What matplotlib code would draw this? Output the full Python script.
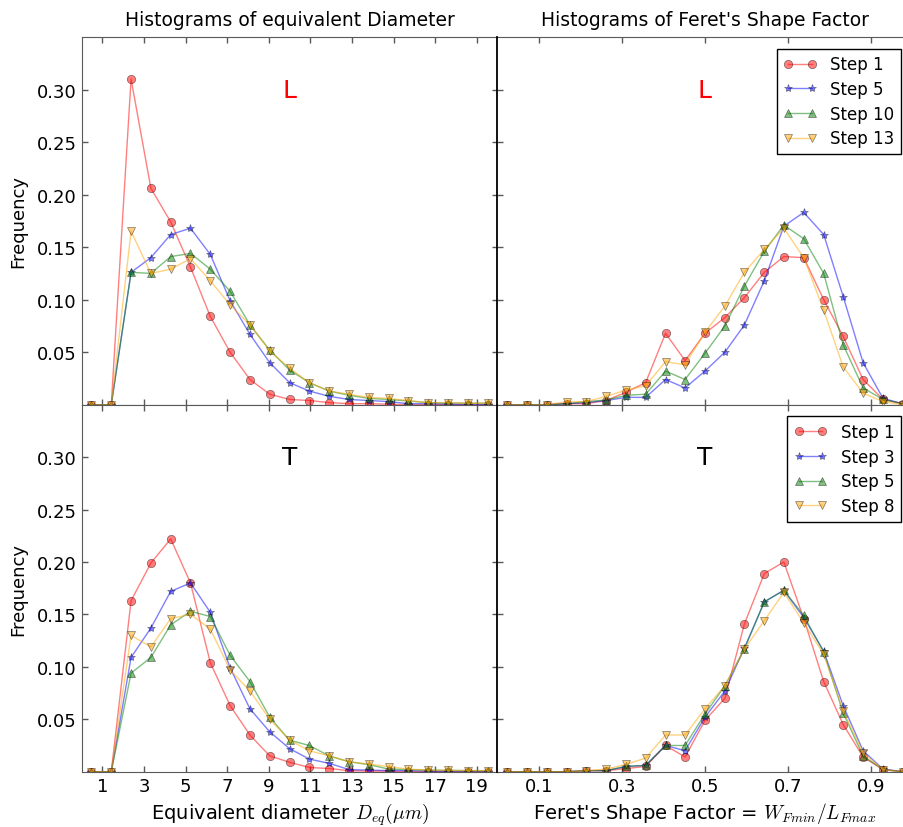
import numpy as np
import matplotlib
matplotlib.use('Agg')
import matplotlib.pyplot as plt

plt.rcParams['font.family'] = 'DejaVu Sans'
plt.rcParams['mathtext.fontset'] = 'cm'

# bin centres (21 bins)
diam_bins = [0.476, 1.429, 2.381, 3.333, 4.286, 5.238, 6.190, 7.143, 8.095, 9.048, 10.0,
             10.952, 11.905, 12.857, 13.810, 14.762, 15.714, 16.667, 17.619, 18.571, 19.524]
feret_bins = [0.024, 0.071, 0.119, 0.167, 0.214, 0.262, 0.310, 0.357, 0.405, 0.452, 0.500,
              0.548, 0.595, 0.643, 0.690, 0.738, 0.786, 0.833, 0.881, 0.929, 0.976]

# L sample
L_steps = ['Step 1', 'Step 5', 'Step 10', 'Step 13']
L_diam = [
    [0, 0, 0.310, 0.206, 0.174, 0.131, 0.084, 0.050, 0.024, 0.010, 0.005, 0.004, 0.002, 0.001, 0.001, 0.0005, 0, 0, 0, 0, 0],
    [0, 0, 0.126, 0.140, 0.162, 0.168, 0.143, 0.099, 0.067, 0.040, 0.021, 0.013, 0.008, 0.005, 0.004, 0.003, 0.001, 0.001, 0.0005, 0, 0],
    [0, 0, 0.126, 0.125, 0.141, 0.144, 0.129, 0.108, 0.076, 0.052, 0.033, 0.021, 0.013, 0.009, 0.006, 0.005, 0.0035, 0.002, 0.0015, 0.0015, 0.0015],
    [0, 0, 0.165, 0.125, 0.129, 0.139, 0.118, 0.095, 0.076, 0.051, 0.035, 0.021, 0.013, 0.010, 0.007, 0.006, 0.004, 0.002, 0.002, 0.0015, 0.0015],
]
L_feret = [
    [0, 0, 0, 0.001, 0.001, 0.004, 0.012, 0.021, 0.068, 0.042, 0.068, 0.083, 0.102, 0.126, 0.141, 0.140, 0.100, 0.065, 0.024, 0.005, 0.001],
    [0, 0, 0, 0.001, 0.002, 0.004, 0.007, 0.007, 0.024, 0.016, 0.032, 0.050, 0.076, 0.118, 0.170, 0.183, 0.162, 0.103, 0.040, 0.006, 0.001],
    [0, 0, 0, 0.001, 0.003, 0.0045, 0.009, 0.010, 0.032, 0.024, 0.049, 0.075, 0.113, 0.146, 0.171, 0.158, 0.125, 0.057, 0.016, 0.005, 0.001],
    [0, 0, 0, 0.003, 0.003, 0.008, 0.014, 0.018, 0.041, 0.038, 0.069, 0.094, 0.126, 0.148, 0.168, 0.140, 0.090, 0.036, 0.011, 0.003, 0],
]

# T sample
T_steps = ['Step 1', 'Step 3', 'Step 5', 'Step 8']
T_diam = [
    [0, 0, 0.163, 0.199, 0.222, 0.180, 0.104, 0.063, 0.035, 0.015, 0.009, 0.004, 0.003, 0.001, 0.0005, 0.0005, 0, 0, 0, 0, 0],
    [0, 0, 0.109, 0.137, 0.172, 0.180, 0.152, 0.099, 0.060, 0.038, 0.022, 0.012, 0.008, 0.002, 0.0015, 0.001, 0.001, 0.0005, 0, 0, 0],
    [0, 0, 0.094, 0.109, 0.140, 0.153, 0.148, 0.111, 0.086, 0.052, 0.030, 0.025, 0.015, 0.0095, 0.0067, 0.0025, 0.002, 0.0015, 0.0013, 0.001, 0.001],
    [0, 0, 0.130, 0.119, 0.146, 0.150, 0.136, 0.097, 0.077, 0.050, 0.030, 0.020, 0.015, 0.0095, 0.0073, 0.0048, 0.0025, 0.0015, 0.0013, 0.001, 0.001],
]
T_feret = [
    [0, 0, 0, 0, 0.001, 0.001, 0.003, 0.005, 0.025, 0.014, 0.049, 0.070, 0.141, 0.189, 0.200, 0.146, 0.086, 0.045, 0.014, 0.002, 0],
    [0, 0, 0, 0, 0.001, 0.001, 0.005, 0.006, 0.025, 0.020, 0.052, 0.077, 0.118, 0.162, 0.173, 0.147, 0.115, 0.063, 0.020, 0.0025, 0],
    [0, 0, 0, 0, 0.001, 0.001, 0.005, 0.006, 0.025, 0.025, 0.055, 0.082, 0.117, 0.162, 0.173, 0.149, 0.114, 0.056, 0.015, 0.002, 0],
    [0, 0, 0, 0, 0.001, 0.0025, 0.007, 0.013, 0.035, 0.035, 0.060, 0.082, 0.117, 0.144, 0.171, 0.142, 0.112, 0.058, 0.018, 0.002, 0],
]

colors = ['red', 'blue', 'green', 'orange']
markers = ['o', '*', '^', 'v']
yticks = [0.05, 0.10, 0.15, 0.20, 0.25, 0.30]
diam_ticks = [1, 3, 5, 7, 9, 11, 13, 15, 17, 19]
feret_ticks = [0.1, 0.3, 0.5, 0.7, 0.9]

fig = plt.figure(figsize=(9.04, 8.28), dpi=100)
ax_tl = fig.add_axes([0.0902, 0.5100, 0.4602, 0.4441])
ax_tr = fig.add_axes([0.5503, 0.5100, 0.4591, 0.4441])
ax_bl = fig.add_axes([0.0902, 0.0668, 0.4602, 0.4432])
ax_br = fig.add_axes([0.5503, 0.0668, 0.4591, 0.4432])


def draw(ax, x, series, labels):
    for y, lab, c, m in zip(series, labels, colors, markers):
        ax.plot(x, y, color=c, marker=m, markersize=6, markeredgecolor='k',
                markeredgewidth=0.5, linewidth=1, alpha=0.5, label=lab)
    ax.set_ylim(0, 0.35)
    ax.set_yticks(yticks)
    ax.tick_params(direction='in', length=4, width=1, color='0.35',
                   top=True, right=True, labelsize=13)
    for s in ax.spines.values():
        s.set_color('0.35')


draw(ax_tl, diam_bins, L_diam, L_steps)
draw(ax_tr, feret_bins, L_feret, L_steps)
draw(ax_bl, diam_bins, T_diam, T_steps)
draw(ax_br, feret_bins, T_feret, T_steps)

for ax in [ax_tl, ax_bl]:
    ax.set_xlim(0, 20)
    ax.set_xticks(diam_ticks)
    ax.set_yticklabels(['%.2f' % v for v in yticks])
    ax.set_ylabel('Frequency', fontsize=13)
    ax.yaxis.set_label_coords(-0.13, 0.5)
for ax in [ax_tr, ax_br]:
    ax.set_xlim(0, 1)
    ax.set_xticks(feret_ticks)
    ax.set_yticklabels([])
    ax.spines['left'].set_color('black')
    ax.spines['left'].set_linewidth(1.3)
    ax.spines['left'].set_zorder(5)
ax_tl.set_xticklabels([])
ax_tr.set_xticklabels([])
ax_bl.set_xticklabels([str(t) for t in diam_ticks])
ax_br.set_xticklabels([str(t) for t in feret_ticks])

ax_tl.set_title('Histograms of equivalent Diameter', fontsize=13.5, pad=9)
ax_tr.set_title("Histograms of Feret's Shape Factor", fontsize=13.5, pad=9)
ax_bl.set_xlabel(r'Equivalent diameter $D_{eq}(\mu m)$', fontsize=14)
ax_br.set_xlabel(r"Feret's Shape Factor = $W_{Fmin}/L_{Fmax}$", fontsize=14)

ax_tl.text(10, 0.30, 'L', color='red', fontsize=18, ha='center', va='center')
ax_tr.text(0.5, 0.30, 'L', color='red', fontsize=18, ha='center', va='center')
ax_bl.text(10, 0.30, 'T', color='black', fontsize=18, ha='center', va='center')
ax_br.text(0.5, 0.30, 'T', color='black', fontsize=18, ha='center', va='center')

for ax in [ax_tr, ax_br]:
    leg = ax.legend(loc='upper right', numpoints=2, fontsize=12, fancybox=False,
                    framealpha=1, edgecolor='black', handlelength=2.0,
                    labelspacing=0.4, borderaxespad=0.7)
    leg.get_frame().set_linewidth(1)

fig.savefig('out.png', dpi=100)
